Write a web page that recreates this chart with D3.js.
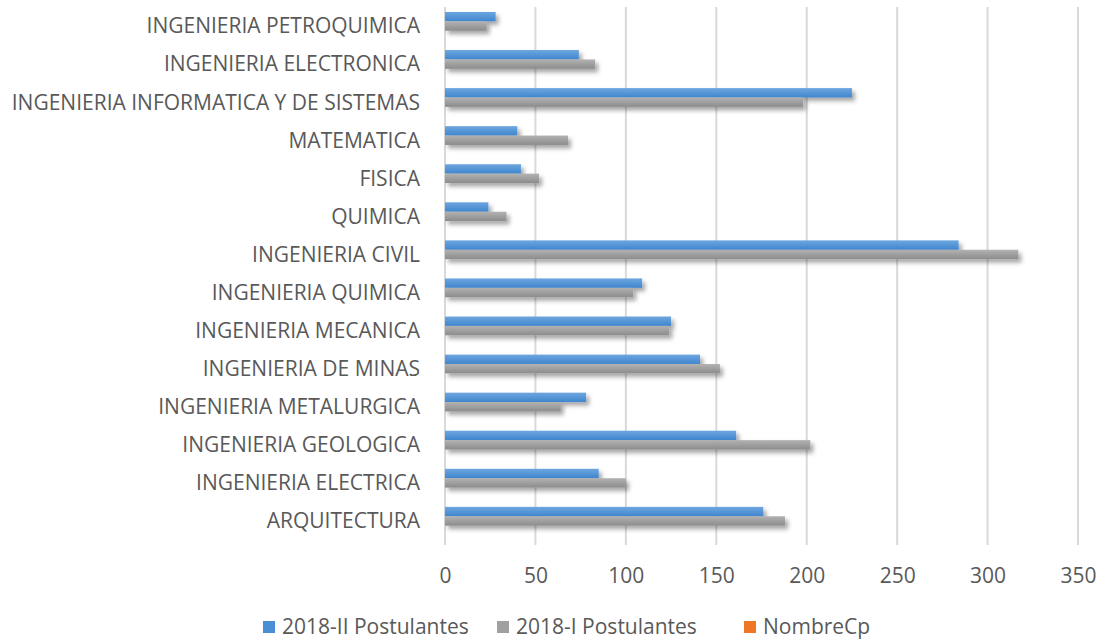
<html>
<head>
  <script src="https://d3js.org/d3.v7.min.js"></script>
  <style>
    body { margin: 0; background: #fff; }
    text { font-family: "Open Sans", sans-serif; fill: #595959; }
  </style>
</head>
<body>
<svg width="1102" height="639"></svg>
<script>
  // categories, top to bottom
  var carreras = ["INGENIERIA PETROQUIMICA", "INGENIERIA ELECTRONICA", "INGENIERIA INFORMATICA Y DE SISTEMAS",
    "MATEMATICA", "FISICA", "QUIMICA", "INGENIERIA CIVIL", "INGENIERIA QUIMICA", "INGENIERIA MECANICA",
    "INGENIERIA DE MINAS", "INGENIERIA METALURGICA", "INGENIERIA GEOLOGICA", "INGENIERIA ELECTRICA", "ARQUITECTURA"];
  var post2018II = [28, 74, 225, 40, 42, 24, 284, 109, 125, 141, 78, 161, 85, 176];
  var post2018I = [23, 83, 198, 68, 52, 34, 317, 104, 124, 152, 64, 202, 100, 188];
  var nombreCp = [0, 0, 0, 0, 0, 0, 0, 0, 0, 0, 0, 0, 0, 0];
  var seriesNames = ["2018-II Postulantes", "2018-I Postulantes", "NombreCp"];
  var xTicks = [0, 50, 100, 150, 200, 250, 300, 350];

  var svg = d3.select("svg");
  var pLeft = 445, pRight = 1078, pTop = 7, pBottom = 540;
  var fontSize = "21px";

  var x = d3.scaleLinear().domain([0, 350]).range([pLeft, pRight]);
  var y = d3.scaleBand().domain(carreras).range([pTop, pBottom]).paddingInner(0.26).paddingOuter(0.13);
  var ySub = d3.scaleBand().domain(seriesNames).range([0, y.bandwidth()]);

  var defs = svg.append("defs");
  var f = defs.append("filter").attr("id", "shadow").attr("x", "-5%").attr("y", "-50%").attr("width", "120%").attr("height", "250%");
  f.append("feDropShadow").attr("dx", 3).attr("dy", 3.5).attr("stdDeviation", 2)
    .attr("flood-color", "#000").attr("flood-opacity", 0.35);

  function grad(id, c1, c2) {
    var g = defs.append("linearGradient").attr("id", id).attr("x1", 0).attr("y1", 0).attr("x2", 0).attr("y2", 1);
    g.append("stop").attr("offset", "0%").attr("stop-color", c1);
    g.append("stop").attr("offset", "100%").attr("stop-color", c2);
  }
  grad("gBlue", "#6ea6df", "#3f86cf");
  grad("gGray", "#b2b2b2", "#8c8c8c");
  grad("gOrange", "#f48a3c", "#e46c18");
  var fills = ["url(#gBlue)", "url(#gGray)", "url(#gOrange)"];
  var legendColors = ["#4a8fd6", "#a0a0a0", "#ee7624"];

  // gridlines
  svg.append("g").selectAll("line").data(xTicks).enter().append("line")
    .attr("x1", function(d) { return x(d); }).attr("x2", function(d) { return x(d); })
    .attr("y1", pTop).attr("y2", pBottom + 5)
    .attr("stroke", "#d9d9d9").attr("stroke-width", 2);

  // bars
  var data = [post2018II, post2018I, nombreCp];
  var groups = svg.append("g").selectAll("g").data(carreras).enter().append("g")
    .attr("transform", function(d) { return "translate(0," + y(d) + ")"; });

  groups.selectAll("rect")
    .data(function(d, i) { return data.map(function(s, k) { return { k: k, v: s[i] }; }); })
    .enter().append("rect")
    .filter(function(d) { return d.v > 0; })
    .attr("x", x(0))
    .attr("y", function(d) { return ySub(seriesNames[d.k]); })
    .attr("height", ySub.bandwidth())
    .attr("width", function(d) { return x(d.v) - x(0); })
    .attr("fill", function(d) { return fills[d.k]; })
    .attr("filter", "url(#shadow)");

  // category labels
  svg.append("g").selectAll("text").data(carreras).enter().append("text")
    .attr("x", 420)
    .attr("y", function(d) { return y(d) + y.bandwidth() / 2; })
    .attr("dy", "0.35em")
    .attr("text-anchor", "end")
    .style("font-size", fontSize)
    .text(function(d) { return d; });

  // x axis
  var xAxis = svg.append("g").attr("transform", "translate(0," + (pBottom + 5) + ")")
    .call(d3.axisBottom(x).tickValues(xTicks).tickSize(0).tickPadding(23));
  xAxis.select(".domain").remove();
  xAxis.selectAll("text").style("font-size", fontSize).attr("fill", "#595959")
    .style("font-family", "'Open Sans', sans-serif");

  // legend
  var legendX = [263, 497, 744];
  var lg = svg.append("g").selectAll("g").data(seriesNames).enter().append("g")
    .attr("transform", function(d, i) { return "translate(" + legendX[i] + ",627)"; });
  lg.append("rect").attr("x", 0).attr("y", -6).attr("width", 12).attr("height", 12)
    .attr("fill", function(d, i) { return legendColors[i]; });
  lg.append("text").attr("x", 19).attr("dy", "0.35em").style("font-size", fontSize)
    .text(function(d) { return d; });
</script>
</body>
</html>
